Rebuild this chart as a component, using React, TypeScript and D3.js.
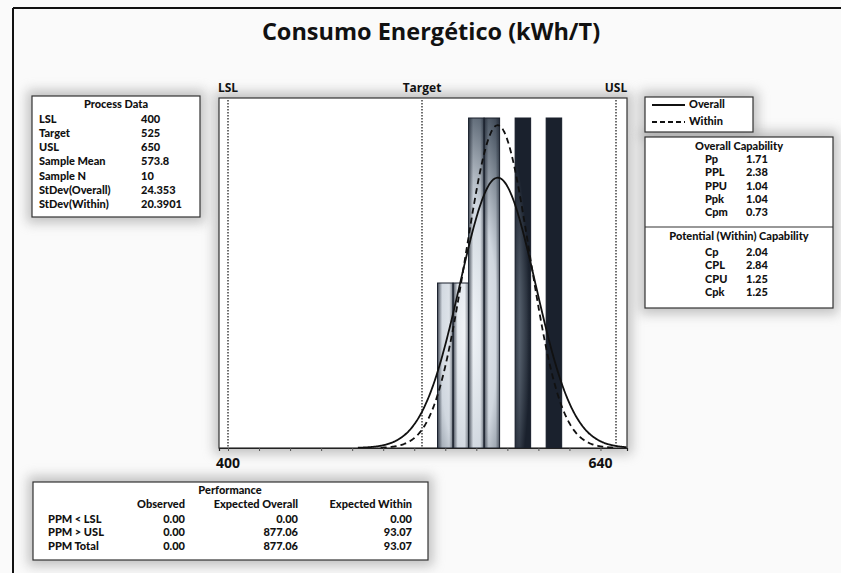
import React, { useEffect, useRef } from 'react';
import * as d3 from 'd3';

// Histogram bins (kWh/T) and counts
const binStarts = [535, 545, 555, 565, 575, 585, 595, 605];
const binCounts = [1, 1, 2, 2, 0, 2, 0, 2];
const binWidth = 10;

const specNames = ['LSL', 'Target', 'USL'];
const specValues = [400, 525, 650];

const sampleMean = 573.8;
const sampleN = 10;
const stdOverall = 24.353;
const stdWithin = 20.3901;

const xTicks = [400, 420, 440, 460, 480, 500, 520, 540, 560, 580, 600, 620, 640];
const xTickLabels = [400, 640];

const processLabels = ['LSL', 'Target', 'USL', 'Sample Mean', 'Sample N', 'StDev(Overall)', 'StDev(Within)'];
const processValues = ['400', '525', '650', '573.8', '10', '24.353', '20.3901'];

const overallLabels = ['Pp', 'PPL', 'PPU', 'Ppk', 'Cpm'];
const overallValues = ['1.71', '2.38', '1.04', '1.04', '0.73'];
const withinLabels = ['Cp', 'CPL', 'CPU', 'Cpk'];
const withinValues = ['2.04', '2.84', '1.25', '1.25'];

const perfHeaders = ['Observed', 'Expected Overall', 'Expected Within'];
const perfRows = ['PPM < LSL', 'PPM > USL', 'PPM Total'];
const perfObserved = ['0.00', '0.00', '0.00'];
const perfOverall = ['0.00', '877.06', '877.06'];
const perfWithin = ['0.00', '93.07', '93.07'];

const FONT = '"Open Sans", "DejaVu Sans", sans-serif';
const TABLE_FONT = 'Lato, "Open Sans", sans-serif';

const App = () => {
    const svgRef = useRef<SVGSVGElement>(null);

    useEffect(() => {
        const svg = d3.select(svgRef.current);
        svg.selectAll('*').remove();

        const width = 841;
        const height = 573;
        const plot = { left: 219, right: 627, top: 98, bottom: 448 };

        svg.attr('width', width).attr('height', height)
            .style('font-family', FONT);

        const defs = svg.append('defs');

        // soft shadow
        const shadow = defs.append('filter').attr('id', 'soft')
            .attr('x', '-20%').attr('y', '-30%').attr('width', '140%').attr('height', '160%');
        shadow.append('feGaussianBlur').attr('stdDeviation', 6);

        // metallic bar gradient, shared across the plot
        const grad = defs.append('radialGradient')
            .attr('id', 'barGrad')
            .attr('gradientUnits', 'userSpaceOnUse')
            .attr('cx', 0).attr('cy', 0).attr('r', 1)
            .attr('gradientTransform', 'translate(468,330) scale(66,290)');
        grad.append('stop').attr('offset', '0').attr('stop-color', '#f4f7fa');
        grad.append('stop').attr('offset', '0.45').attr('stop-color', '#d0d7df');
        grad.append('stop').attr('offset', '0.75').attr('stop-color', '#5f6a77');
        grad.append('stop').attr('offset', '0.95').attr('stop-color', '#1a212d');

        // dark edges on each bar
        const edge = defs.append('linearGradient').attr('id', 'edgeGrad')
            .attr('x1', 0).attr('x2', 1).attr('y1', 0).attr('y2', 0);
        edge.append('stop').attr('offset', '0').attr('stop-color', '#1a212d').attr('stop-opacity', 0.75);
        edge.append('stop').attr('offset', '0.3').attr('stop-color', '#1a212d').attr('stop-opacity', 0);
        edge.append('stop').attr('offset', '0.75').attr('stop-color', '#1a212d').attr('stop-opacity', 0);
        edge.append('stop').attr('offset', '1').attr('stop-color', '#1a212d').attr('stop-opacity', 0.55);

        // background
        svg.append('rect').attr('width', width).attr('height', height).attr('fill', '#fafafa');

        // outer border (top and left only)
        svg.append('line').attr('x1', 13).attr('x2', width).attr('y1', 8).attr('y2', 8)
            .attr('stroke', '#111').attr('stroke-width', 2);
        svg.append('line').attr('x1', 13).attr('x2', 13).attr('y1', 8).attr('y2', height)
            .attr('stroke', '#111').attr('stroke-width', 2);

        // Title
        svg.append('text')
            .attr('x', 431).attr('y', 40)
            .attr('text-anchor', 'middle')
            .style('font-size', '23.5px').style('font-weight', 700).style('fill', '#111')
            .text('Consumo Energético (kWh/T)');

        const boxes = [
            { x: 32, y: 96, w: 168, h: 121 },
            { x: plot.left, y: plot.top, w: plot.right - plot.left, h: plot.bottom - plot.top },
            { x: 645, y: 97, w: 108, h: 35 },
            { x: 645, y: 137, w: 188, h: 171 },
            { x: 33, y: 482, w: 395, h: 78 }
        ];

        // shadows
        svg.append('g').selectAll('rect').data(boxes).enter().append('rect')
            .attr('x', d => d.x - 5).attr('y', d => d.y - 6)
            .attr('width', d => d.w + 10).attr('height', d => d.h + 12)
            .attr('fill', '#8a8a8a').attr('opacity', 0.5)
            .attr('filter', 'url(#soft)');

        svg.append('g').selectAll('rect').data(boxes).enter().append('rect')
            .attr('x', d => d.x).attr('y', d => d.y)
            .attr('width', d => d.w).attr('height', d => d.h)
            .attr('fill', '#fff').attr('stroke', '#333').attr('stroke-width', 1.2);

        // Scales
        const xScale = d3.scaleLinear()
            .domain([400 - 9 / 1.552, 400 + (plot.right - 228) / 1.552])
            .range([plot.left, plot.right]);
        const yScale = d3.scaleLinear()
            .domain([0, 350 / 165])
            .range([plot.bottom, plot.top]);

        const g = svg.append('g');

        // Bars
        const bins = binStarts.map((s, i) => ({ x0: s, x1: s + binWidth, n: binCounts[i] }))
            .filter(d => d.n > 0);
        g.selectAll('.bar').data(bins).enter().append('rect')
            .attr('class', 'bar')
            .attr('x', d => xScale(d.x0))
            .attr('width', d => xScale(d.x1) - xScale(d.x0))
            .attr('y', d => yScale(d.n))
            .attr('height', d => yScale(0) - yScale(d.n))
            .attr('fill', 'url(#barGrad)');
        g.selectAll('.edge').data(bins).enter().append('rect')
            .attr('class', 'edge')
            .attr('x', d => xScale(d.x0))
            .attr('width', d => xScale(d.x1) - xScale(d.x0))
            .attr('y', d => yScale(d.n))
            .attr('height', d => yScale(0) - yScale(d.n))
            .attr('fill', 'url(#edgeGrad)')
            .attr('stroke', '#1a212d').attr('stroke-width', 1);

        // Spec lines
        specValues.forEach((v, i) => {
            g.append('line')
                .attr('x1', xScale(v)).attr('x2', xScale(v))
                .attr('y1', plot.top + 2).attr('y2', plot.bottom)
                .attr('stroke', '#222').attr('stroke-width', 1.3)
                .attr('stroke-dasharray', '1.5,1.5');
            svg.append('text')
                .attr('x', xScale(v)).attr('y', 92)
                .attr('text-anchor', 'middle')
                .style('font-size', '12px').style('font-weight', 700).style('fill', '#111')
                .text(specNames[i]);
        });

        // Normal curves
        const curve = (sd: number) => {
            const [d0, d1] = xScale.domain();
            const lo = Math.max(d0, sampleMean - 3.7 * sd);
            const hi = Math.min(d1, sampleMean + 3.8 * sd);
            const pts = d3.range(lo, hi + 0.01, 0.5).map(x => {
                const z = (x - sampleMean) / sd;
                return [x, sampleN * binWidth * Math.exp(-0.5 * z * z) / (sd * Math.sqrt(2 * Math.PI))];
            });
            return d3.line().x(d => xScale(d[0])).y(d => yScale(d[1])).curve(d3.curveBasis)(pts as [number, number][]);
        };
        g.append('path').attr('d', curve(stdWithin))
            .attr('fill', 'none').attr('stroke', '#111').attr('stroke-width', 1.8)
            .attr('stroke-dasharray', '6,4');
        g.append('path').attr('d', curve(stdOverall))
            .attr('fill', 'none').attr('stroke', '#111').attr('stroke-width', 1.8);

        // X axis
        const xAxis = svg.append('g')
            .attr('transform', `translate(0, ${plot.bottom})`)
            .call(d3.axisBottom(xScale).tickValues(xTicks).tickSize(3).tickFormat(() => ''));
        xAxis.select('.domain').attr('stroke', '#222').attr('stroke-width', 1.2);
        xAxis.selectAll('line').attr('stroke', '#555');
        xTickLabels.forEach(v => {
            svg.append('text')
                .attr('x', xScale(v)).attr('y', 468)
                .attr('text-anchor', 'middle')
                .style('font-size', '14px').style('font-weight', 700).style('fill', '#111')
                .text(v);
        });

        const txt = (x: number, y: number, s: string, anchor = 'start') =>
            svg.append('text').attr('x', x).attr('y', y).attr('text-anchor', anchor)
                .attr('dominant-baseline', 'middle')
                .style('font-family', TABLE_FONT)
                .style('font-size', '11px').style('font-weight', 900).style('fill', '#111')
                .text(s);

        // Process Data
        txt(116, 105, 'Process Data', 'middle');
        processLabels.forEach((l, i) => {
            txt(39, 120 + i * 14.2, l);
            txt(141, 120 + i * 14.2, processValues[i]);
        });

        // Legend
        svg.append('line').attr('x1', 652).attr('x2', 685).attr('y1', 105).attr('y2', 105)
            .attr('stroke', '#111').attr('stroke-width', 1.8);
        svg.append('line').attr('x1', 652).attr('x2', 685).attr('y1', 122).attr('y2', 122)
            .attr('stroke', '#111').attr('stroke-width', 1.8).attr('stroke-dasharray', '5,3');
        txt(689, 105, 'Overall');
        txt(689, 122, 'Within');

        // Capability
        txt(739, 147, 'Overall Capability', 'middle');
        overallLabels.forEach((l, i) => {
            txt(705, 160 + i * 13.4, l);
            txt(746, 160 + i * 13.4, overallValues[i]);
        });
        svg.append('line').attr('x1', 645).attr('x2', 833).attr('y1', 227).attr('y2', 227)
            .attr('stroke', '#333').attr('stroke-width', 1.2);
        txt(739, 237, 'Potential (Within) Capability', 'middle');
        withinLabels.forEach((l, i) => {
            txt(705, 253 + i * 13.4, l);
            txt(746, 253 + i * 13.4, withinValues[i]);
        });

        // Performance
        txt(230, 491, 'Performance', 'middle');
        const colRight = [185, 298, 412];
        perfHeaders.forEach((h, i) => txt(colRight[i], 505, h, 'end'));
        perfRows.forEach((r, i) => {
            const y = 520 + i * 13.5;
            txt(48, y, r);
            txt(colRight[0], y, perfObserved[i], 'end');
            txt(colRight[1], y, perfOverall[i], 'end');
            txt(colRight[2], y, perfWithin[i], 'end');
        });
    }, []);

    return (
        <svg ref={svgRef} style={{ position: 'absolute', left: 0, top: 0, display: 'block' }}></svg>
    );
};

export default App;
